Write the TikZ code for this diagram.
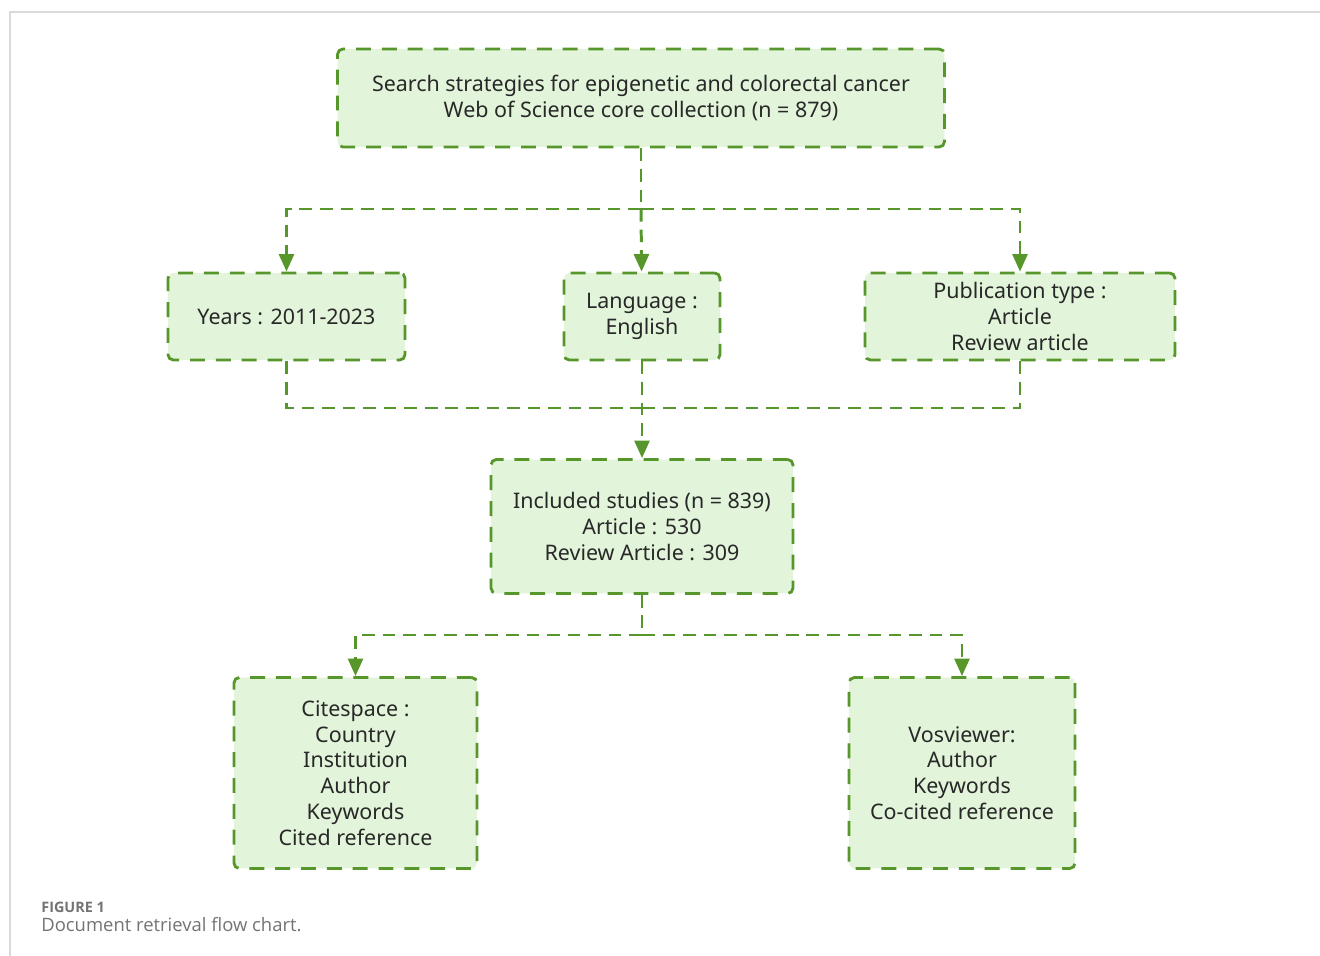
\documentclass[tikz,border=0pt]{standalone}
\usepackage{fontspec}
\setmainfont{Noto Sans}
\newfontfamily\capfont{Open Sans}
\usetikzlibrary{arrows.meta}
\definecolor{boxline}{RGB}{86,150,42}
\definecolor{boxfill}{RGB}{226,244,218}
\definecolor{boxtext}{RGB}{40,40,40}
\definecolor{captext}{RGB}{115,115,115}
\begin{document}
\begin{tikzpicture}[x=0.02cm,y=-0.02cm]
    \tikzset{block/.style= {draw=boxline,
                            fill=boxfill,
                            rectangle,
                            rounded corners=3pt,
                            line width=1.6pt,
                            dash pattern=on 8.5pt off 6.2pt,
                            align=center,
                            text=boxtext,
                            font=\fontsize{12.2}{14.7}\selectfont},
             link/.style=  {draw=boxline,
                            line width=1.7pt,
                            dash pattern=on 7.2pt off 4.5pt},
             arr/.style=   {link,
                            -{Triangle[length=10pt,width=8.5pt]}},
            }
    \useasboundingbox (0,0) rectangle (1320,956);
    \draw[black!15, line width=1pt] (10,956) -- (10,12) -- (1320,12);
    \path
    (641,98)     node[block, minimum width=12.14cm, minimum height=1.96cm](q) {Search strategies for epigenetic and colorectal cancer\\Web of Science core collection (n = 879)}
    (286.5,316.5) node[block, minimum width=4.74cm, minimum height=1.74cm](y) {Years : 2011-2023}
    (642,316.5)  node[block, minimum width=3.12cm, minimum height=1.74cm](l) {Language :\\English}
    (1020,316.5) node[block, minimum width=6.2cm, minimum height=1.74cm](p) {Publication type :\\Article\\Review article}
    (642,526.5)  node[block, minimum width=6.04cm, minimum height=2.68cm](i) {Included studies (n = 839)\\Article : 530\\Review Article : 309}
    (355.5,773)  node[block, minimum width=4.86cm, minimum height=3.82cm](c) {Citespace :\\Country\\Institution\\Author\\Keywords\\Cited reference}
    (962,773)    node[block, minimum width=4.52cm, minimum height=3.82cm](v) {Vosviewer:\\Author\\Keywords\\Co-cited reference}
    ;
    \coordinate (s1) at (641,209);
    \coordinate (s2) at (642,408);
    \coordinate (s3) at (642,635);
    \draw[link] (q) -- (s1);
    \draw[arr]  (s1) -| (y);
    \draw[arr]  (s1) -- (l);
    \draw[arr]  (s1) -| (p);
    \draw[link] (y) |- (s2);
    \draw[link] (p) |- (s2);
    \draw[arr]  (l) -- (i);
    \draw[link] (i) -- (s3);
    \draw[arr]  (s3) -| (c);
    \draw[arr]  (s3) -| (v);
    % caption
    \node[anchor=base west, inner sep=0pt, text=captext, font=\capfont\bfseries\fontsize{8.2}{9}\selectfont] (f) at (41,912) {FIGURE 1};
    \node[anchor=base west, inner sep=0pt, text=captext, font=\capfont\fontsize{10.5}{12}\selectfont] (t) at (41,931) {Document retrieval flow chart.};
\end{tikzpicture}
\end{document}
